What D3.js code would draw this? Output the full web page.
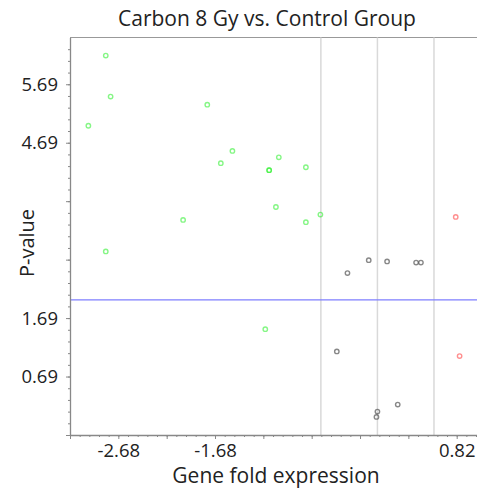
<!DOCTYPE html>
<html lang="en">
<head>
	<meta charset="utf-8">
	<title>Carbon 8 Gy vs. Control Group</title>
	<script type="text/javascript" src="https://cdn.jsdelivr.net/npm/d3@7"></script>
	<style>
		body { margin: 0; background-color: #ffffff; }
		text { font-family: "Open Sans", "Liberation Sans", sans-serif; fill: #222; }
	</style>
</head>
<body>
	<div id="chart"></div>
	<script>
	// log2 fold change / -log10 p
	var greenFold = [-2.81, -2.76, -2.99, -1.76, -1.50, -1.62, -1.02, -1.12, -1.12, -0.74, -1.05, -0.59, -0.74, -2.01, -2.81, -1.16];
	var greenP    = [ 6.18,  5.48,  4.98,  5.34,  4.55,  4.34,  4.44,  4.22,  4.22,  4.27,  3.59,  3.46,  3.33,  3.37,  2.83,  1.50];
	var grayFold  = [-0.31, -0.09, 0.10, 0.40, 0.45, -0.42, 0.00, -0.01, 0.21];
	var grayP     = [ 2.46,  2.68, 2.66, 2.64, 2.64,  1.12, 0.09,  0.00, 0.21];
	var redFold   = [0.81, 0.85];
	var redP      = [3.42, 1.04];

	var foldCuts = [-0.585, 0, 0.585];
	var pCut = 2;

	var xTicks = [-3.18, -2.68, -2.18, -1.68, -1.18, -0.68, -0.18, 0.32, 0.82];
	var xTickLabels = ["-2.68", "-1.68", "0.82"];
	var yTicks = [-0.31, 0.69, 1.69, 2.69, 3.69, 4.69, 5.69];
	var yTickLabels = ["0.69", "1.69", "4.69", "5.69"];

	(function() {
	var W = 477, H = 491;
	var pLeft = 70, pRight = 477, pTop = 37.5, pBottom = 435;

	var x = d3.scaleLinear().domain([-3.18, 1.03]).range([pLeft, pRight]);
	var y = d3.scaleLinear().domain([-0.31, 6.49]).range([pBottom, pTop]);

	var svg = d3.select("#chart")
		.append("svg")
		.attr("width", W)
		.attr("height", H);

	// frame top
	svg.append("line")
		.attr("x1", pLeft).attr("x2", pRight)
		.attr("y1", pTop).attr("y2", pTop)
		.attr("stroke", "#999").attr("stroke-width", 1);

	// threshold lines
	svg.selectAll("line.vcut")
		.data(foldCuts)
		.enter().append("line")
		.attr("class", "vcut")
		.attr("x1", function(d) { return x(d); })
		.attr("x2", function(d) { return x(d); })
		.attr("y1", pTop).attr("y2", pBottom)
		.attr("stroke", "#d9d9d9").attr("stroke-width", 1.5);

	svg.append("line")
		.attr("x1", pLeft).attr("x2", pRight)
		.attr("y1", y(pCut)).attr("y2", y(pCut))
		.attr("stroke", "#7f7fff").attr("stroke-width", 1.3);

	// minor ticks
	var xMinor = d3.range(-3.18, 1.03, 0.1);
	var yMinor = d3.range(-0.31, 6.49, 0.2);

	svg.append("g")
		.attr("transform", "translate(0," + pBottom + ")")
		.call(d3.axisBottom(x).tickValues(xMinor).tickSize(2).tickFormat(""))
		.call(function(g) { g.select(".domain").remove(); g.selectAll("line").attr("stroke", "#888"); });

	svg.append("g")
		.attr("transform", "translate(" + pLeft + ",0)")
		.call(d3.axisLeft(y).tickValues(yMinor).tickSize(2).tickFormat(""))
		.call(function(g) { g.select(".domain").remove(); g.selectAll("line").attr("stroke", "#888"); });

	// major axes
	var xAxis = svg.append("g")
		.attr("transform", "translate(0," + pBottom + ")")
		.call(d3.axisBottom(x).tickValues(xTicks).tickSizeInner(4).tickSizeOuter(0).tickPadding(5)
			.tickFormat(function(d) { var s = d.toFixed(2); return xTickLabels.indexOf(s) >= 0 ? s : ""; }));
	xAxis.select(".domain").attr("stroke", "#888").attr("stroke-width", 1.3);
	xAxis.selectAll("line").attr("stroke", "#888");
	xAxis.selectAll("text").attr("font-size", "18.5px").attr("fill", "#222").attr("font-family", "Open Sans");

	var yAxis = svg.append("g")
		.attr("transform", "translate(" + pLeft + ",0)")
		.call(d3.axisLeft(y).tickValues(yTicks).tickSizeInner(4).tickSizeOuter(0).tickPadding(8)
			.tickFormat(function(d) { var s = d.toFixed(2); return yTickLabels.indexOf(s) >= 0 ? s : ""; }));
	yAxis.select(".domain").attr("stroke", "#888").attr("stroke-width", 1.3);
	yAxis.selectAll("line").attr("stroke", "#888");
	yAxis.selectAll("text").attr("font-size", "18.5px").attr("fill", "#222").attr("font-family", "Open Sans");

	// points
	function drawGroup(fold, p, col, op) {
		svg.append("g").selectAll("circle")
			.data(d3.zip(fold, p))
			.enter().append("circle")
			.attr("cx", function(d) { return x(d[0]); })
			.attr("cy", function(d) { return y(d[1]); })
			.attr("r", 2.2)
			.attr("fill", "none")
			.attr("stroke", col)
			.attr("stroke-opacity", op)
			.attr("stroke-width", 1.4);
	}
	drawGroup(greenFold, greenP, "#22ee22", 0.55);
	drawGroup(grayFold, grayP, "#555555", 0.7);
	drawGroup(redFold, redP, "#ff3333", 0.55);

	// titles
	svg.append("text")
		.attr("x", 267).attr("y", 26)
		.attr("text-anchor", "middle")
		.attr("font-size", "21px")
		.text("Carbon 8 Gy vs. Control Group");

	svg.append("text")
		.attr("x", 276).attr("y", 483)
		.attr("text-anchor", "middle")
		.attr("font-size", "21px")
		.text("Gene fold expression");

	svg.append("text")
		.attr("transform", "translate(34,243) rotate(-90)")
		.attr("text-anchor", "middle")
		.attr("font-size", "20px")
		.text("P-value");
	})();
	</script>
</body>
</html>
